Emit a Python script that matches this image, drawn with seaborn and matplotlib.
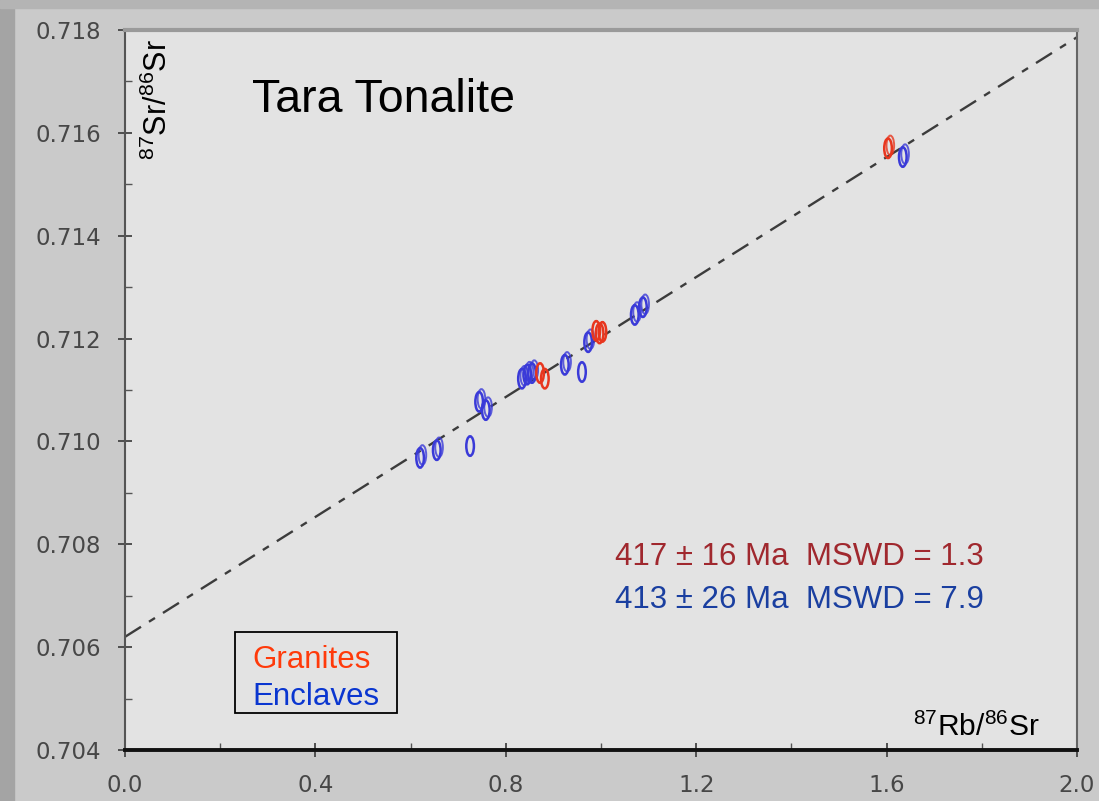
import matplotlib
matplotlib.use('Agg')
import matplotlib.pyplot as plt
from matplotlib.patches import Ellipse, Rectangle
import numpy as np
import pandas as pd
import seaborn as sns

# isochron data (87Rb/86Sr, 87Sr/86Sr)
gran_x = [0.872, 0.882, 0.990, 0.997, 1.003, 1.603]
gran_y = [0.71133, 0.71122, 0.71215, 0.71210, 0.71213, 0.71570]
encl_x = [0.620, 0.655, 0.725, 0.744, 0.758, 0.834, 0.845, 0.855, 0.924, 0.960, 0.973, 1.071, 1.088, 1.634]
encl_y = [0.70968, 0.70983, 0.70991, 0.71077, 0.71061, 0.71122, 0.71130, 0.71133, 0.71149, 0.71135,
          0.71193, 0.71246, 0.71261, 0.71553]
gran_tilt = [0, 0, 0, 0, 0, 10]
encl_tilt = [5, 5, 0, 8, 5, 10, 10, 5, 10, 0, 15, 20, 20, 10]
err_x = 0.0080
err_y = 0.00019

iso_intercept = 0.70620
iso_slope = 0.00583
iso_x = [0.0, 2.0]

x_ticks = [0.0, 0.4, 0.8, 1.2, 1.6, 2.0]
y_ticks = [0.704, 0.706, 0.708, 0.710, 0.712, 0.714, 0.716, 0.718]

sns.set_style('white')
plt.rcParams['font.family'] = ['Liberation Sans', 'DejaVu Sans']
plt.rcParams['mathtext.fontset'] = 'custom'
plt.rcParams['mathtext.rm'] = 'Liberation Sans'

fig = plt.figure(figsize=(10.99, 8.01), dpi=100, facecolor='#cacaca')
# darker frame bands
fig.patches.append(Rectangle((0, 0), 14 / 1099, 1, transform=fig.transFigure, color='#a4a4a4', zorder=0))
fig.patches.append(Rectangle((0, 1 - 8 / 801), 1, 8 / 801, transform=fig.transFigure, color='#b4b4b4', zorder=0))

ax = fig.add_axes([125 / 1099, 1 - 750 / 801, 952 / 1099, 720 / 801])
ax.set_facecolor('#e3e3e3')

iso_df = pd.DataFrame({'x': iso_x, 'y': [iso_intercept + iso_slope * v for v in iso_x]})
sns.lineplot(data=iso_df, x='x', y='y', ax=ax, color='#3c3c3c', lw=1.7,
             dashes=False, linestyle=(0, (8, 4, 3, 4)))

for xs, ys, tilts, col in [(encl_x, encl_y, encl_tilt, '#3a3ad8'), (gran_x, gran_y, gran_tilt, '#e8361e')]:
    for x, y, t in zip(xs, ys, tilts):
        ax.add_patch(Ellipse((x, y), 2 * err_x, 2 * err_y, angle=0, edgecolor=col,
                             facecolor='none', lw=1.8, zorder=3))
        # tilt is shown by a second, slightly offset outline
        if t:
            ax.add_patch(Ellipse((x + err_x * 0.6, y + err_y * 0.3), 2 * err_x, 2 * err_y,
                                 edgecolor=col, facecolor='none', lw=1.4, zorder=3, alpha=0.8))

ax.set_xlim(0, 2.0)
ax.set_ylim(0.704, 0.718)
ax.set_xticks(x_ticks)
ax.set_yticks(y_ticks)
ax.set_xticklabels([f'{v:.1f}' for v in x_ticks], family='DejaVu Sans')
ax.set_yticklabels([f'{v:.3f}' for v in y_ticks], family='DejaVu Sans')
ax.set_xticks(np.arange(0.2, 2.0, 0.4), minor=True)
ax.set_yticks(np.arange(0.705, 0.718, 0.002), minor=True)
ax.tick_params(which='major', direction='inout', length=10, width=1.3, color='#444444',
               labelsize=16.5, labelcolor='#474747', pad=12, left=True, bottom=True)
ax.tick_params(which='minor', direction='in', length=5, width=1.0, color='#555555', left=True, bottom=True)
ax.set_xlabel('')
ax.set_ylabel('')

for side, col, w in [('left', '#555555', 1.5), ('bottom', '#111111', 2.8),
                     ('top', '#9a9a9a', 3.0), ('right', '#666666', 1.5)]:
    ax.spines[side].set_color(col)
    ax.spines[side].set_linewidth(w)

ax.text((252 - 125) / 952, 1 - (100 - 30) / 720, 'Tara Tonalite', transform=ax.transAxes,
        fontsize=33.5, va='center', ha='left', color='black')
ax.text((158 - 125) / 952, 1 - (100 - 30) / 720, r'$^{87}$Sr/$^{86}$Sr', transform=ax.transAxes,
        fontsize=22, rotation=90, va='center', ha='center', color='black')
ax.text(1 - 37 / 952, 1 - (727 - 30) / 720, r'$^{87}$Rb/$^{86}$Sr', transform=ax.transAxes,
        fontsize=21.5, va='center', ha='right', color='black')
ax.text((615 - 125) / 952, 1 - (557 - 30) / 720, '417 ± 16 Ma  MSWD = 1.3', transform=ax.transAxes,
        fontsize=22.5, va='center', ha='left', color='#a0282e')
ax.text((615 - 125) / 952, 1 - (600 - 30) / 720, '413 ± 26 Ma  MSWD = 7.9', transform=ax.transAxes,
        fontsize=22.5, va='center', ha='left', color='#1a3fa0')

ax.add_patch(Rectangle(((235 - 125) / 952, 1 - (713 - 30) / 720), 162 / 952, 81 / 720,
                       transform=ax.transAxes, facecolor='none', edgecolor='black', lw=1.3, zorder=4))
ax.text((252 - 125) / 952, 1 - (660 - 30) / 720, 'Granites', transform=ax.transAxes,
        fontsize=22.5, va='center', ha='left', color='#ff3a0a')
ax.text((252 - 125) / 952, 1 - (697 - 30) / 720, 'Enclaves', transform=ax.transAxes,
        fontsize=22.5, va='center', ha='left', color='#0a36d0')

fig.savefig('out.png', dpi=100, facecolor=fig.get_facecolor())
